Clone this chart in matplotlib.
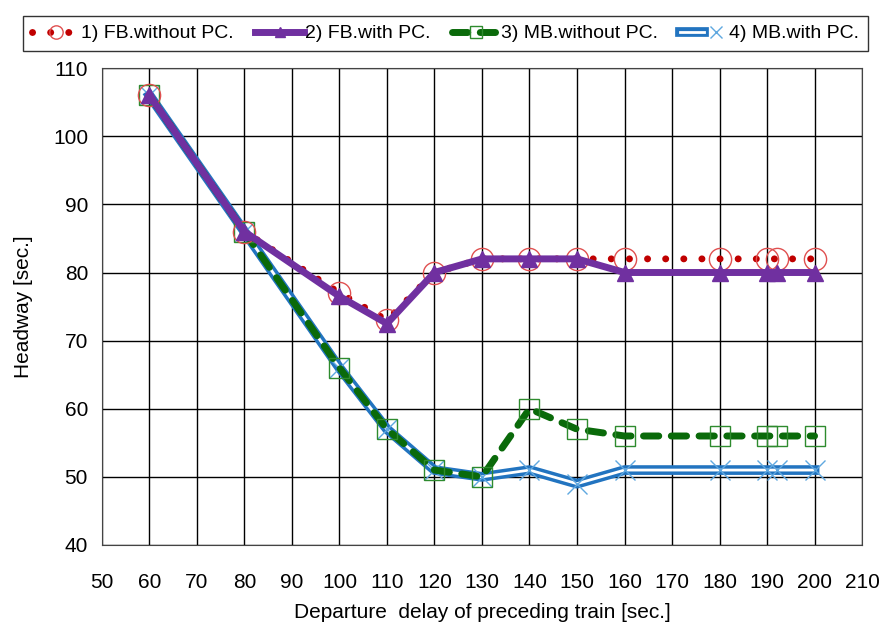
import matplotlib.pyplot as plt
import matplotlib.patheffects as pe
from matplotlib.legend_handler import HandlerTuple

plt.rcParams['font.family'] = ['Liberation Sans', 'DejaVu Sans']

# departure delay of preceding train [sec.]
delay = [60, 80, 100, 110, 120, 130, 140, 150, 160, 180, 190, 192, 200]

fb_without_pc = [106, 86, 77, 73, 80, 82, 82, 82, 82, 82, 82, 82, 82]
fb_with_pc = [106, 86, 76.5, 72.5, 80, 82, 82, 82, 80, 80, 80, 80, 80]
mb_without_pc = [106, 86, 66, 57, 51, 50, 60, 57, 56, 56, 56, 56, 56]
mb_with_pc = [106, 86, 66, 57, 51, 50, 51, 49, 51, 51, 51, 51, 51]

labels = ['1) FB.without PC.', '2) FB.with PC.', '3) MB.without PC.', '4) MB.with PC.']

fig = plt.figure(figsize=(8.86, 6.25), dpi=100)
ax = fig.add_axes([0.115, 0.128, 0.858, 0.763])

# 4) double blue line: white core with a thick blue stroke around it
blue_line, = ax.plot(delay, mb_with_pc, color='white', lw=2, zorder=3,
                     path_effects=[pe.Stroke(linewidth=7, foreground='#2274C0'), pe.Normal()])
blue_marks, = ax.plot(delay, mb_with_pc, ls='none', marker='x', ms=15,
                      mec='#5FA8E0', mew=1, zorder=3.1)

# 3) green dashed
green, = ax.plot(delay, mb_without_pc, color='#0A6A0A', lw=5, ls=(0, (2.2, 1.8)),
                 dash_capstyle='round', marker='s', ms=15, mfc='none', mec='#2E8B2E',
                 mew=1, zorder=4)

# 1) red dotted with circles
red, = ax.plot(delay, fb_without_pc, color='#C00000', lw=5, ls=(0, (0.01, 2.6)),
               dash_capstyle='round', marker='o', ms=16, mfc='none', mec='#E05050',
               mew=1, zorder=5)

# 2) purple with triangles
purple, = ax.plot(delay, fb_with_pc, color='#7030A0', lw=5, marker='^', ms=12,
                  zorder=6)

ax.set_xlim(50, 210)
ax.set_ylim(40, 110)
ax.set_xticks(range(50, 211, 10))
ax.set_yticks(range(40, 111, 10))
ax.grid(True, color='black', lw=1)
ax.set_axisbelow(True)
for s in ax.spines.values():
    s.set_color('#444444')
ax.tick_params(length=0, labelsize=15)
ax.tick_params(axis='x', pad=20)
ax.tick_params(axis='y', pad=10)

ax.set_xlabel('Departure  delay of preceding train [sec.]', fontsize=15, labelpad=8)
ax.set_ylabel('Headway [sec.]', fontsize=15, labelpad=14)

leg = fig.legend([red, purple, green, (blue_line, blue_marks)], labels,
                 handler_map={tuple: HandlerTuple(ndivide=None, pad=0)},
                 loc='upper center', bbox_to_anchor=(0.503, 0.99), ncol=4,
                 fontsize=14, frameon=True, fancybox=False, edgecolor='black',
                 handlelength=2.5, handletextpad=0.05, columnspacing=1.1,
                 borderpad=0.45, numpoints=1, markerscale=0.6)
leg.get_frame().set_linewidth(1)

fig.savefig('out.png', dpi=100)
